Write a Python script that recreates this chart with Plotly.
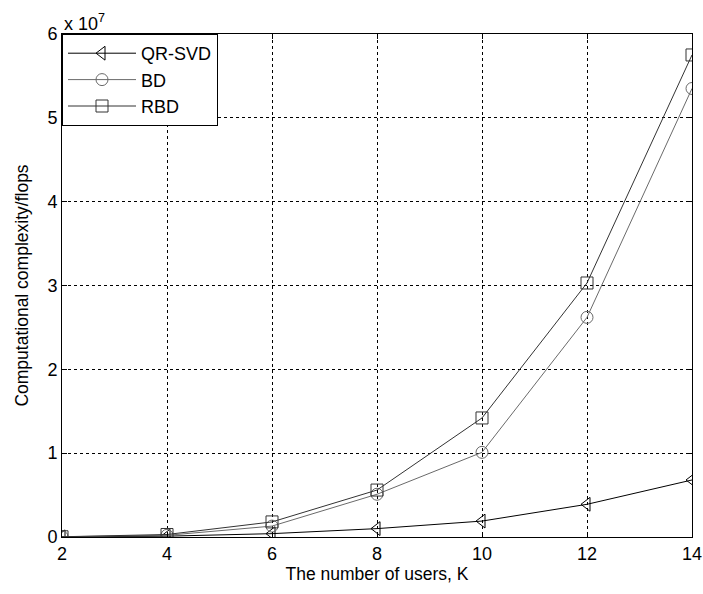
import plotly.graph_objects as go

users_k = [2, 4, 6, 8, 10, 12, 14]
qr_svd = [0.002e7, 0.01e7, 0.04e7, 0.10e7, 0.19e7, 0.39e7, 0.68e7]
bd = [0.003e7, 0.02e7, 0.13e7, 0.51e7, 1.01e7, 2.62e7, 5.35e7]
rbd = [0.003e7, 0.03e7, 0.18e7, 0.56e7, 1.42e7, 3.03e7, 5.75e7]
y_ticks = [0, 1e7, 2e7, 3e7, 4e7, 5e7, 6e7]
y_tick_labels = ["0", "1", "2", "3", "4", "5", "6"]
x_ticks = [2, 4, 6, 8, 10, 12, 14]

FONT = "Liberation Sans, Arial, sans-serif"

fig = go.Figure()
series = [
    ("QR-SVD", qr_svd, "triangle-left-open", "#000000"),
    ("BD", bd, "circle-open", "#6a6a6a"),
    ("RBD", rbd, "square-open", "#333333"),
]
for name, vals, sym, col in series:
    fig.add_trace(go.Scatter(
        x=users_k, y=vals, name=name, mode="lines+markers",
        line=dict(color=col, width=1),
        marker=dict(symbol=sym, size=12, color=col, line=dict(width=1, color=col)),
    ))

axis_common = dict(
    showline=True, linecolor="#000000", linewidth=1, mirror="ticks",
    ticks="inside", ticklen=5, tickcolor="#000000",
    showgrid=True, gridcolor="#000000", gridwidth=1, griddash="3px,3px",
    zeroline=False,
    tickfont=dict(family=FONT, size=18, color="#000000"),
    ticklabeloverflow="allow",
    automargin=False,
)

fig.update_xaxes(range=[2, 14], tickvals=x_ticks,
                 title=dict(text="The number of users, K", font=dict(family=FONT, size=17.5, color="#000000"), standoff=2),
                 **axis_common)
fig.update_yaxes(range=[0, 6e7], tickvals=y_ticks, ticktext=y_tick_labels,
                 title=dict(text="Computational complexity/flops", font=dict(family=FONT, size=17.5, color="#000000"), standoff=14),
                 **axis_common)

fig.add_annotation(xref="paper", yref="paper", x=0, y=1, xanchor="left", yanchor="bottom",
                   text="x 10<sup>7</sup>", showarrow=False, yshift=-2,
                   font=dict(family=FONT, size=18, color="#000000"))

fig.update_layout(
    width=703, height=594,
    margin=dict(l=62, r=11, t=34, b=57, autoexpand=False),
    paper_bgcolor="white", plot_bgcolor="white",
    font=dict(family=FONT, size=18, color="#000000"),
    legend=dict(x=0, y=1, xanchor="left", yanchor="top",
                bgcolor="white", bordercolor="#000000", borderwidth=1,
                font=dict(family=FONT, size=18, color="#000000"),
                itemwidth=68, tracegroupgap=0),
    showlegend=True,
)

fig.write_html("out.html")
